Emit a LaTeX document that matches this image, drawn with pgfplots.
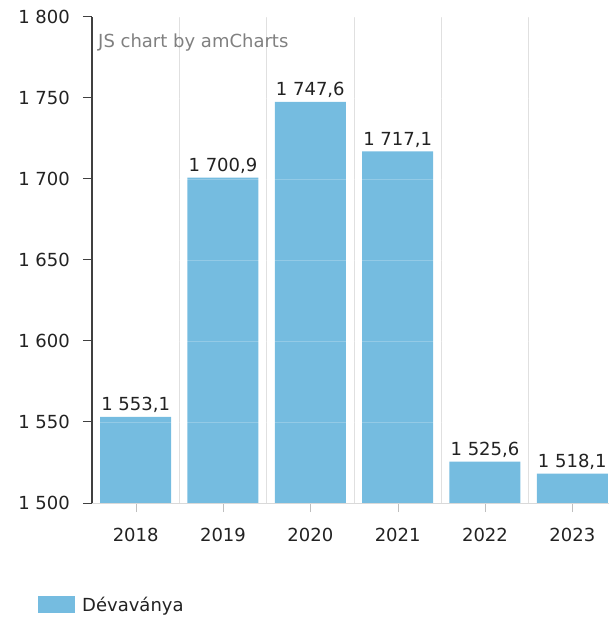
\documentclass[border=0pt]{standalone}
\usepackage{fontspec}
\setmainfont{DejaVu Sans}
\usepackage{pgfplots}
\pgfplotsset{compat=1.18}
\definecolor{barblue}{HTML}{75BCE0}
\definecolor{txt}{HTML}{222222}
\begin{document}
\fontsize{18}{22}\selectfont
\begin{tikzpicture}
\path[use as bounding box] (-92pt,-115pt) rectangle (517pt,503pt);
\begin{axis}[
  at={(0,0)}, anchor=south west,
  scale only axis, width=517pt, height=486pt,
  xmin=-0.5, xmax=5.42, ymin=1500, ymax=1800,
  ytick={1500,1550,...,1800},
  xtick={0,...,5}, xticklabels={2018,2019,2020,2021,2022,2023},
  minor xtick={0.5,1.5,...,4.5},
  xminorgrids, minor grid style={draw=black!12},
  ymajorgrids, major grid style={draw=white, opacity=0.22},
  axis on top,
  axis x line*=bottom, axis y line*=left,
  x axis line style={draw=black!15, -}, y axis line style={draw=black!75, line width=1.5pt, -},
  tick align=outside, major tick length=9pt, minor tick length=0pt,
  xtick style={draw=black!25}, ytick style={draw=black!75, line width=1pt},
  /pgf/number format/assume math mode=true,
  yticklabel style={font=\fontsize{18}{22}\selectfont, text=txt, xshift=-7pt, /pgf/number format/1000 sep={\ }},
  xticklabel style={font=\fontsize{18}{22}\selectfont, text=txt, yshift=-10pt},
  ybar, bar width=71pt,
  nodes near coords={\pgfmathprintnumber[fixed, fixed zerofill, precision=1, use comma, 1000 sep={\ }, assume math mode=true]{\pgfplotspointmeta}},
  nodes near coords style={font=\fontsize{18}{22}\selectfont, text=txt, anchor=south, inner sep=4pt},
  clip=false,
]
\addplot[fill=barblue, draw=none] coordinates {(0,1553.1) (1,1700.9) (2,1747.6) (3,1717.1) (4,1525.6) (5,1518.1)};
\end{axis}
\node[anchor=base west, inner sep=0pt, text=black!50, font=\fontsize{18}{22}\selectfont] at (6pt,455pt) {JS chart by amCharts};
\fill[barblue] (-54pt,-110pt) rectangle (-17pt,-93pt);
\node[anchor=base west, inner sep=0pt, text=txt, font=\fontsize{18}{22}\selectfont] at (-10pt,-108pt) {Dévaványa};
\end{tikzpicture}
\end{document}
